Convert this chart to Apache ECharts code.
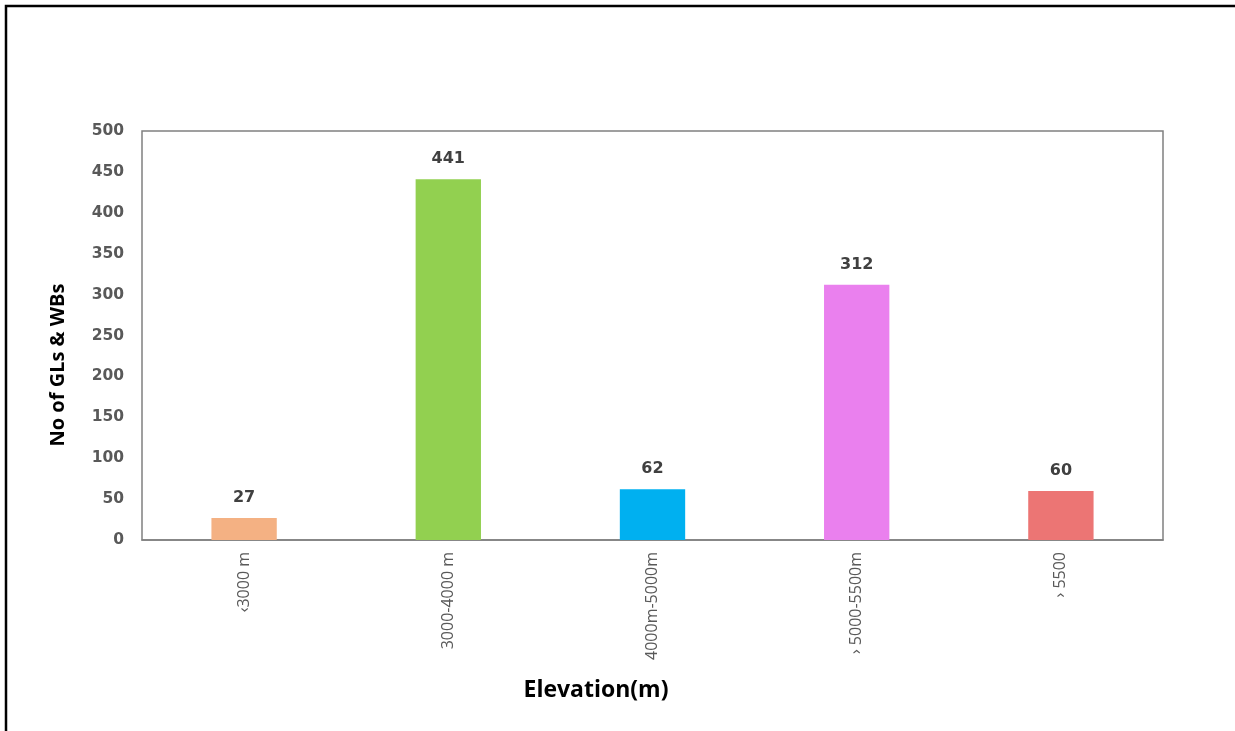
<!DOCTYPE html>
<html><head><meta charset="utf-8">
<script src="https://cdn.jsdelivr.net/npm/echarts@6/dist/echarts.min.js"></script>
<style>html,body{margin:0;padding:0;background:#fff}#c{width:1235px;height:731px}</style>
</head><body><div id="c"></div>
<script>
var categories = ['‹3000 m', '3000-4000 m', '4000m-5000m', '› 5000-5500m', '› 5500'];
var values = [27, 441, 62, 312, 60];
var barColors = ['#F4B183', '#92D050', '#00B0F0', '#EA80EE', '#EC7574'];
var yTicks = [0, 50, 100, 150, 200, 250, 300, 350, 400, 450, 500];

var chart = echarts.init(document.getElementById('c'), null, {renderer: 'canvas'});
chart.setOption({
  animation: false,
  grid: {left: 142, top: 131, width: 1021, height: 409, show: true, borderColor: '#808080', borderWidth: 1.5, backgroundColor: 'transparent'},
  xAxis: {
    type: 'category', data: categories,
    axisTick: {show: false},
    axisLine: {show: true, lineStyle: {color: '#808080', width: 1.5}},
    axisLabel: {rotate: 90, margin: 12, color: '#595959', fontFamily: 'Open Sans', fontSize: 16, interval: 0}
  },
  yAxis: {
    type: 'value', min: yTicks[0], max: yTicks[yTicks.length - 1], interval: 50,
    splitLine: {show: false},
    axisLine: {show: false}, axisTick: {show: false},
    axisLabel: {margin: 18, color: '#595959', fontFamily: 'DejaVu Sans', fontWeight: 'bold', fontSize: 15.5}
  },
  series: [{
    type: 'bar', barWidth: '32%',
    data: values.map(function (v, i) { return {value: v, itemStyle: {color: barColors[i]}}; }),
    label: {show: true, position: 'top', distance: 12, color: '#404040', fontFamily: 'DejaVu Sans', fontWeight: 'bold', fontSize: 16}
  }],
  graphic: [
    {type: 'rect', shape: {x: 6, y: 6, width: 1260, height: 760}, style: {fill: 'none', stroke: '#000', lineWidth: 2.5}, silent: true},
    {type: 'text', x: 58, y: 365, rotation: Math.PI / 2,
     style: {text: 'No of GLs & WBs', fill: '#000', font: 'bold 20px "Open Sans"', textAlign: 'center', textVerticalAlign: 'middle'}},
    {type: 'text', x: 596, y: 690,
     style: {text: 'Elevation(m)', fill: '#000', font: 'bold 23px "Open Sans"', textAlign: 'center', textVerticalAlign: 'middle'}}
  ]
});
</script></body></html>
